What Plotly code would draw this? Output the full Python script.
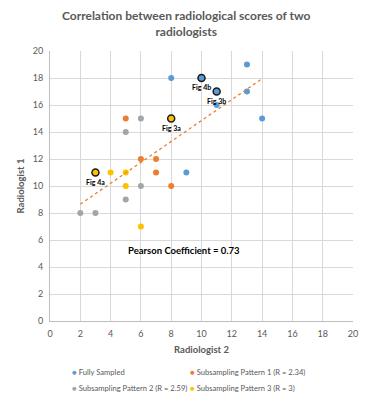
import plotly.graph_objects as go

# ---- data ----
full_x = [8, 10, 11, 11, 13, 13, 14, 9]
full_y = [18, 18, 17, 16, 19, 17, 15, 11]
p1_x = [5, 6, 7, 7, 8]
p1_y = [15, 12, 12, 11, 10]
p2_x = [6, 5, 6, 5, 2, 3]
p2_y = [15, 14, 10, 9, 8, 8]
p3_x = [8, 3, 4, 5, 5, 6]
p3_y = [15, 11, 11, 11, 10, 7]

hl_blue_x = [10, 11]
hl_blue_y = [18, 17]
hl_blue_lbl = ["Fig 4b", "Fig 3b"]
hl_yel_x = [8, 3]
hl_yel_y = [15, 11]
hl_yel_lbl = ["Fig 3a", "Fig 4a"]

trend_x = [2, 14]
trend_y = [8.65, 17.95]

series_names = ["Fully Sampled", "Subsampling Pattern 1 (R = 2.34)",
                "Subsampling Pattern 2 (R = 2.59)", "Subsampling Pattern 3 (R = 3)"]
colors = ["#5B9BD5", "#ED7D31", "#A5A5A5", "#FFC000"]
pearson_text = "Pearson Coefficient = 0.73"
title_text = "Correlation between radiological scores of two<br>radiologists"

FONT = "Lato"
TXT = "#595959"

fig = go.Figure()
for xs, ys, name, c in zip([full_x, p1_x, p2_x, p3_x], [full_y, p1_y, p2_y, p3_y],
                           series_names, colors):
    fig.add_trace(go.Scatter(x=xs, y=ys, mode="markers", name=name,
                             marker=dict(color=c, size=6, line=dict(width=0))))

fig.add_trace(go.Scatter(x=trend_x, y=trend_y, mode="lines", showlegend=False,
                         line=dict(color="#ED7D31", width=1.3, dash="dot")))

for xs, ys, c in [(hl_blue_x, hl_blue_y, colors[0]), (hl_yel_x, hl_yel_y, colors[3])]:
    fig.add_trace(go.Scatter(x=xs, y=ys, mode="markers", showlegend=False,
                             marker=dict(color=c, size=7, line=dict(width=1.5, color="#1a1a1a"))))

for xs, ys, lbls in [(hl_blue_x, hl_blue_y, hl_blue_lbl), (hl_yel_x, hl_yel_y, hl_yel_lbl)]:
    for x, y, t in zip(xs, ys, lbls):
        fig.add_annotation(x=x, y=y, text="<b>" + t + "</b>", showarrow=False,
                           yshift=-9, font=dict(family=FONT, size=7, color="#000"))

fig.add_annotation(x=8.85, y=5.2, text="<b>" + pearson_text + "</b>", showarrow=False,
                   font=dict(family=FONT, size=9.5, color="#000"))

# title
fig.add_annotation(xref="paper", yref="paper", x=0.45, y=1.100, xanchor="center",
                   yanchor="middle", showarrow=False, text="<b>" + title_text + "</b>",
                   font=dict(family=FONT, size=12, color=TXT))

# legend (manual, two columns)
leg_pos = [(0.067, -0.189), (0.457, -0.189), (0.067, -0.248), (0.457, -0.248)]
for (lx, ly), name, c in zip(leg_pos, series_names, colors):
    fig.add_annotation(xref="paper", yref="paper", x=lx, y=ly, xanchor="left",
                       yanchor="middle", showarrow=False,
                       text=f"<span style='color:{c};font-size:8px'>●</span> {name}",
                       font=dict(family=FONT, size=7.6, color=TXT))

axis_common = dict(range=[0, 20], dtick=2, showgrid=True, gridcolor="#d9d9d9",
                   gridwidth=1, zeroline=False, showline=True, linecolor="#bfbfbf",
                   linewidth=1, ticks="", tickfont=dict(family=FONT, size=9, color=TXT),
                   ticklabelstandoff=4, fixedrange=True)

# page body has an 8px margin, so the figure is offset by 8px; sizes compensate
fig.update_layout(
    width=362, height=392,
    margin=dict(l=35, r=13, t=43, b=79),
    paper_bgcolor="white", plot_bgcolor="white",
    showlegend=False,
    xaxis=dict(axis_common, title=dict(text="<b>Radiologist 2</b>", standoff=8,
                                       font=dict(family=FONT, size=9.5, color=TXT))),
    yaxis=dict(axis_common, title=dict(text="<b>Radiologist 1</b>", standoff=6,
                                       font=dict(family=FONT, size=9.5, color=TXT))),
)

fig.write_html("out.html")
